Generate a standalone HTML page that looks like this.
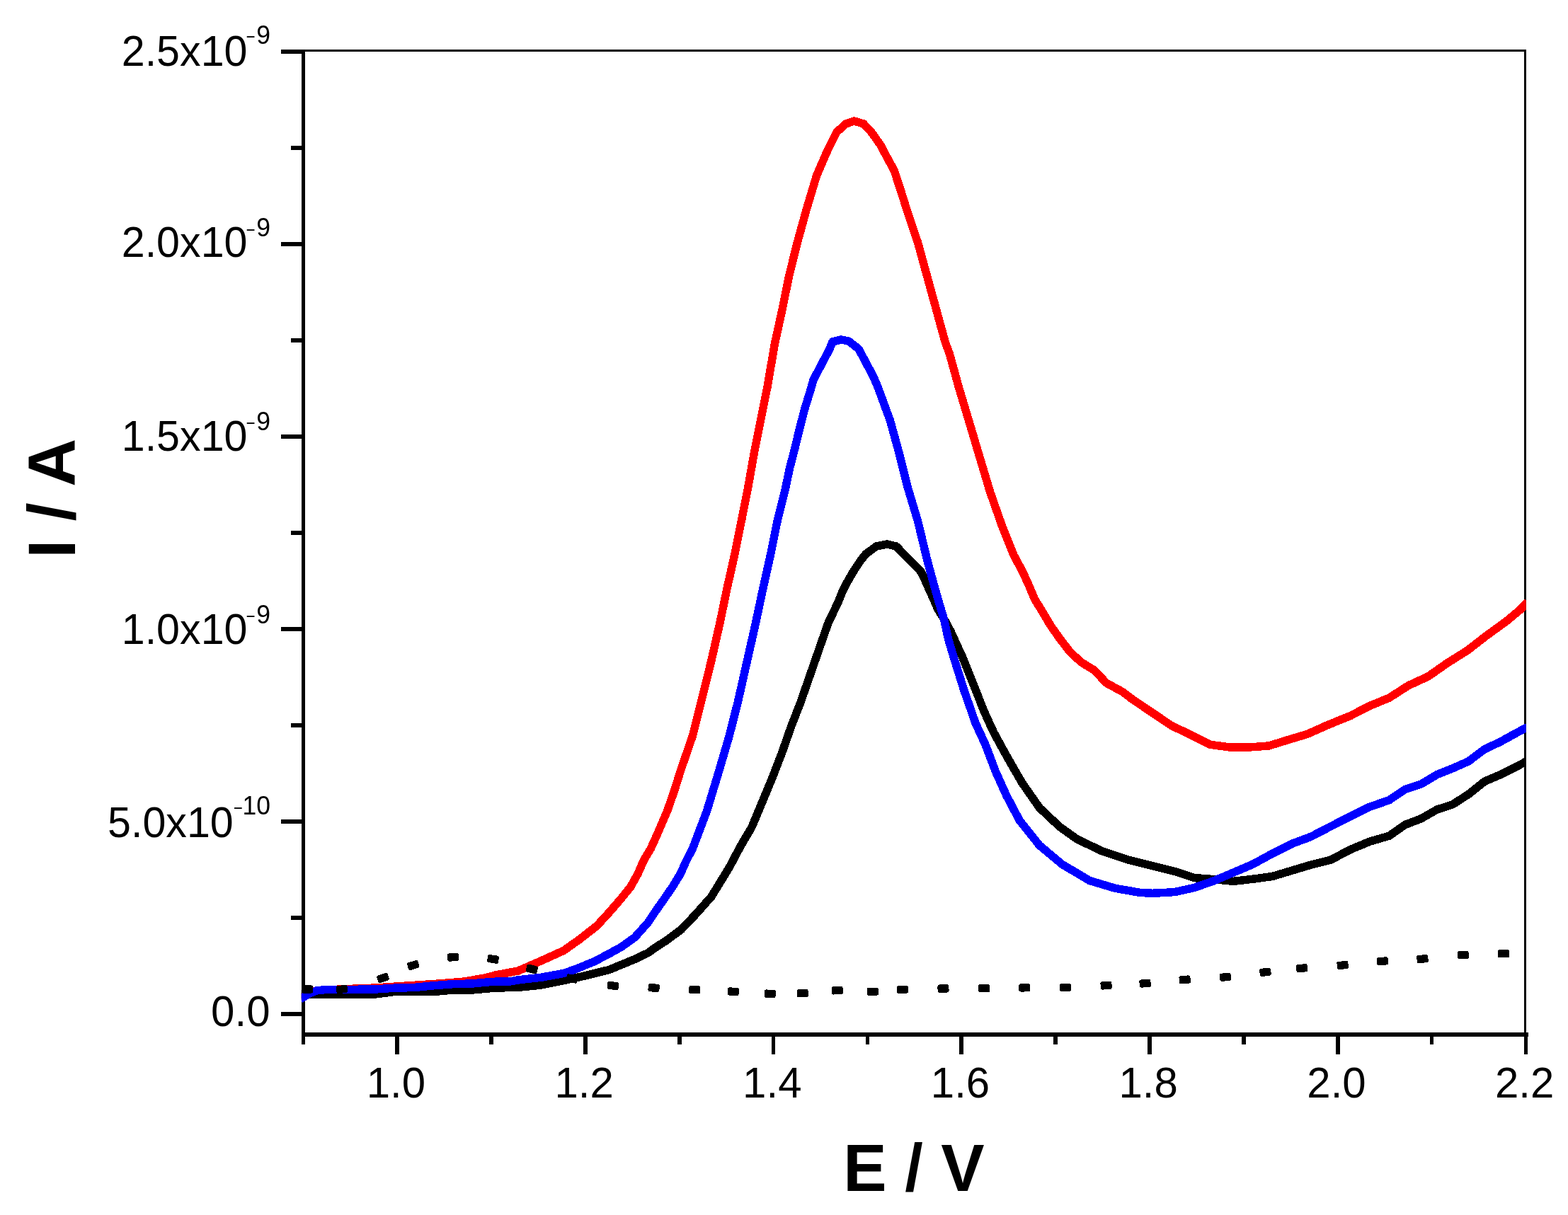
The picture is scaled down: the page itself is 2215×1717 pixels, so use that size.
<!DOCTYPE html>
<html><head><meta charset="utf-8"><title>I / A vs E / V</title>
<style>
html,body{margin:0;padding:0;background:#fff;}
body{width:2215px;height:1717px;overflow:hidden;}
svg{display:block;}
.tl{font-family:"Liberation Sans",Arial,sans-serif;font-size:60px;fill:#000;}
.sup{font-family:"Liberation Sans",Arial,sans-serif;font-size:35.5px;fill:#000;}
.ttl{font-family:"Liberation Sans",Arial,sans-serif;font-size:92px;font-weight:bold;fill:#000;}
.c{fill:none;stroke-width:11.5;stroke-linejoin:round;stroke-linecap:butt;}
</style></head>
<body>
<svg width="2215" height="1717" viewBox="0 0 2215 1717">
<rect width="2215" height="1717" fill="#fff"/>
<defs><clipPath id="pc"><rect x="425.8" y="60" width="1730" height="1410"/></clipPath></defs>
<g fill="#000" shape-rendering="crispEdges">
<!-- frame -->
<rect x="426" y="70.4" width="1730" height="2.7"/>
<rect x="2153.2" y="70.4" width="2.6" height="1392"/>
<!-- left axis -->
<rect x="425.9" y="70.4" width="5.4" height="1405.6"/>
<!-- bottom axis -->
<rect x="426" y="1459" width="1732.8" height="5.7"/>
<rect x="558.31" y="1459" width="5.7" height="31.40"/>
<rect x="691.17" y="1459" width="5.7" height="16.50"/>
<rect x="824.03" y="1459" width="5.7" height="31.40"/>
<rect x="956.89" y="1459" width="5.7" height="16.50"/>
<rect x="1089.75" y="1459" width="5.7" height="31.40"/>
<rect x="1222.61" y="1459" width="5.7" height="16.50"/>
<rect x="1355.47" y="1459" width="5.7" height="31.40"/>
<rect x="1488.33" y="1459" width="5.7" height="16.50"/>
<rect x="1621.19" y="1459" width="5.7" height="31.40"/>
<rect x="1754.05" y="1459" width="5.7" height="16.50"/>
<rect x="1886.91" y="1459" width="5.7" height="31.40"/>
<rect x="2019.77" y="1459" width="5.7" height="16.50"/>
<rect x="2152.63" y="1459" width="5.7" height="31.40"/>
<rect x="397" y="1430.25" width="31.50" height="5.6"/>
<rect x="411" y="1294.27" width="17.50" height="5.6"/>
<rect x="397" y="1158.28" width="31.50" height="5.6"/>
<rect x="411" y="1022.29" width="17.50" height="5.6"/>
<rect x="397" y="886.31" width="31.50" height="5.6"/>
<rect x="411" y="750.32" width="17.50" height="5.6"/>
<rect x="397" y="614.34" width="31.50" height="5.6"/>
<rect x="411" y="478.35" width="17.50" height="5.6"/>
<rect x="397" y="342.37" width="31.50" height="5.6"/>
<rect x="411" y="206.38" width="17.50" height="5.6"/>
<rect x="397" y="70.40" width="31.50" height="5.6"/>
</g>
<g shape-rendering="crispEdges" clip-path="url(#pc)">
<polyline class="c" stroke="#ff0000" points="424.0,1410.0 440.0,1401.0 480.0,1398.0 530.0,1396.0 575.0,1393.0 620.0,1390.0 656.0,1387.0 685.0,1382.0 700.0,1378.0 732.0,1372.0 764.0,1358.0 796.0,1343.5 818.0,1328.0 843.0,1308.5 860.0,1290.0 876.0,1271.6 891.0,1253.0 901.0,1235.0 909.0,1216.6 919.5,1198.7 928.0,1180.0 942.6,1146.0 952.5,1117.8 961.3,1089.5 978.5,1039.6 991.8,986.4 1005.0,933.2 1017.0,880.0 1027.2,830.8 1037.8,783.5 1047.3,736.3 1056.7,689.0 1065.0,641.8 1074.4,594.5 1083.9,547.3 1092.0,500.0 1094.7,484.4 1105.1,437.2 1114.6,389.9 1126.4,342.6 1139.4,295.4 1153.6,248.1 1168.9,212.7 1181.9,186.7 1195.0,175.0 1206.5,171.0 1220.0,175.0 1231.7,187.7 1244.1,205.4 1253.4,223.1 1263.1,240.9 1268.9,258.6 1274.7,276.3 1280.5,295.0 1296.5,342.6 1309.5,389.9 1322.5,437.2 1335.5,484.4 1341.4,500.0 1354.4,547.3 1368.6,594.5 1384.3,647.3 1398.4,694.5 1415.0,741.8 1432.1,784.7 1444.9,808.4 1453.4,827.3 1461.4,846.2 1472.8,865.1 1484.1,884.0 1497.4,902.9 1512.0,921.8 1527.6,936.0 1546.1,947.3 1562.6,965.0 1586.3,978.0 1600.0,988.5 1627.5,1007.0 1655.0,1025.5 1682.4,1038.6 1709.9,1052.3 1737.4,1056.0 1764.8,1056.0 1792.3,1054.0 1819.8,1045.5 1847.3,1037.2 1874.7,1024.9 1907.5,1011.6 1934.9,997.5 1962.4,986.2 1989.9,968.6 2017.4,956.0 2044.8,936.8 2072.3,919.6 2099.8,898.3 2127.3,878.4 2147.9,861.2 2158.0,850.5"/>
<polyline class="c" stroke="#000000" points="424.0,1405.0 480.0,1405.0 530.0,1405.0 557.0,1401.5 612.0,1401.5 640.0,1399.0 667.0,1399.0 700.0,1396.0 732.0,1395.4 764.0,1392.1 796.0,1385.7 828.0,1378.5 860.3,1370.5 877.8,1363.3 896.7,1355.5 915.6,1346.5 924.4,1340.0 941.3,1329.1 962.5,1313.4 983.8,1291.0 1005.0,1267.0 1030.3,1225.7 1046.0,1196.0 1061.9,1169.0 1076.7,1133.6 1091.4,1098.1 1105.0,1062.7 1117.4,1027.3 1131.2,991.8 1153.6,927.3 1170.1,880.0 1183.3,852.6 1189.2,837.9 1196.5,823.3 1204.9,808.6 1214.4,794.0 1222.9,783.0 1238.0,772.0 1253.0,769.0 1266.0,772.0 1276.7,783.0 1287.3,794.0 1301.5,808.4 1310.0,827.3 1318.5,846.2 1324.6,860.3 1336.0,879.0 1343.6,893.4 1352.1,912.3 1359.1,927.3 1378.0,974.5 1390.0,1005.0 1403.9,1035.4 1423.4,1070.9 1443.8,1106.3 1468.6,1141.8 1497.0,1168.4 1521.8,1186.1 1557.2,1202.9 1592.7,1214.8 1628.1,1223.6 1660.0,1231.6 1687.5,1240.6 1714.9,1242.6 1742.4,1245.4 1769.9,1242.2 1797.4,1238.5 1824.8,1230.3 1852.3,1222.0 1879.8,1215.2 1907.3,1200.7 1934.7,1189.3 1962.4,1181.2 1984.9,1165.5 2007.3,1157.0 2029.8,1144.1 2052.2,1136.8 2074.7,1122.2 2097.1,1104.3 2119.6,1094.7 2142.0,1083.5 2158.0,1075.0"/>
<polyline class="c" stroke="#0000ff" points="424.0,1412.0 437.0,1404.0 447.0,1400.0 461.0,1398.3 502.0,1398.3 530.0,1398.0 557.0,1396.2 585.0,1395.5 612.0,1392.8 640.0,1390.7 667.0,1390.0 695.0,1387.3 720.0,1387.0 732.0,1384.9 764.0,1381.3 796.0,1375.5 812.0,1370.0 828.0,1363.5 840.0,1358.5 858.9,1348.6 877.8,1338.2 896.7,1324.7 915.6,1303.5 924.5,1289.9 937.4,1271.6 950.3,1252.8 961.2,1234.9 969.4,1216.6 978.5,1199.0 998.5,1146.2 1007.1,1117.8 1015.7,1089.5 1030.3,1039.6 1042.4,991.8 1055.6,933.2 1067.6,880.0 1078.0,830.8 1088.6,783.5 1098.1,736.3 1109.4,691.2 1115.2,662.9 1122.6,634.5 1129.4,606.2 1136.8,577.8 1145.5,549.5 1149.0,536.9 1154.8,525.9 1160.5,514.9 1166.3,504.0 1172.0,493.0 1176.0,483.0 1188.0,480.0 1198.7,482.0 1212.8,493.0 1218.8,504.0 1224.5,514.9 1230.5,525.9 1235.8,536.9 1240.4,547.9 1257.5,594.5 1270.5,641.8 1282.3,689.0 1296.5,736.3 1309.3,789.5 1316.9,817.8 1324.9,846.2 1333.4,874.5 1339.5,902.9 1348.0,931.2 1361.5,974.5 1378.0,1021.8 1392.4,1053.2 1405.7,1088.6 1421.6,1124.0 1440.3,1159.5 1468.6,1194.9 1500.5,1221.5 1539.5,1244.6 1574.9,1255.2 1610.4,1261.4 1628.1,1262.3 1645.8,1261.4 1660.0,1260.5 1687.5,1254.3 1714.9,1244.7 1742.4,1233.0 1769.9,1221.3 1797.4,1206.2 1824.8,1192.5 1852.3,1182.2 1879.8,1167.8 1907.3,1154.0 1934.7,1140.3 1962.4,1130.7 1984.9,1115.5 2007.3,1108.2 2029.8,1094.7 2052.2,1085.8 2074.7,1075.7 2097.1,1058.8 2119.6,1048.2 2142.0,1035.8 2158.0,1027.5"/>
<g fill="#000">
<rect x="426.0" y="1392.4" width="16" height="11.2" rx="2.5" transform="rotate(0.0 434.0 1398.0)"/>
<rect x="475.0" y="1392.4" width="16" height="11.2" rx="2.5" transform="rotate(-8.5 483.0 1398.0)"/>
<rect x="533.0" y="1376.4" width="16" height="11.2" rx="2.5" transform="rotate(-18.6 541.0 1382.0)"/>
<rect x="575.8" y="1358.4" width="16" height="11.2" rx="2.5" transform="rotate(-16.5 583.8 1364.0)"/>
<rect x="632.0" y="1347.1" width="16" height="11.2" rx="2.5" transform="rotate(-4.4 640.0 1352.7)"/>
<rect x="688.5" y="1349.8" width="16" height="11.2" rx="2.5" transform="rotate(8.6 696.5 1355.4)"/>
<rect x="743.4" y="1363.9" width="16" height="11.2" rx="2.5" transform="rotate(13.9 751.4 1369.5)"/>
<rect x="800.0" y="1377.4" width="16" height="11.2" rx="2.5" transform="rotate(11.6 808.0 1383.0)"/>
<rect x="857.9" y="1387.4" width="16" height="11.2" rx="2.5" transform="rotate(6.4 865.9 1393.0)"/>
<rect x="915.6" y="1390.4" width="16" height="11.2" rx="2.5" transform="rotate(2.7 923.6 1396.0)"/>
<rect x="973.3" y="1392.8" width="16" height="11.2" rx="2.5" transform="rotate(2.7 981.3 1398.4)"/>
<rect x="1027.7" y="1395.6" width="16" height="11.2" rx="2.5" transform="rotate(3.1 1035.7 1401.2)"/>
<rect x="1079.9" y="1398.6" width="16" height="11.2" rx="2.5" transform="rotate(1.4 1087.9 1404.2)"/>
<rect x="1125.8" y="1398.0" width="16" height="11.2" rx="2.5" transform="rotate(-2.7 1133.8 1403.6)"/>
<rect x="1174.8" y="1394.2" width="16" height="11.2" rx="2.5" transform="rotate(-1.3 1182.8 1399.8)"/>
<rect x="1225.0" y="1395.7" width="16" height="11.2" rx="2.5" transform="rotate(-0.9 1233.0 1401.3)"/>
<rect x="1267.0" y="1392.8" width="16" height="11.2" rx="2.5" transform="rotate(-2.5 1275.0 1398.4)"/>
<rect x="1324.5" y="1391.4" width="16" height="11.2" rx="2.5" transform="rotate(-0.8 1332.5 1397.0)"/>
<rect x="1382.1" y="1391.2" width="16" height="11.2" rx="2.5" transform="rotate(-0.5 1390.1 1396.8)"/>
<rect x="1439.3" y="1390.3" width="16" height="11.2" rx="2.5" transform="rotate(-0.7 1447.3 1395.9)"/>
<rect x="1497.0" y="1389.8" width="16" height="11.2" rx="2.5" transform="rotate(-1.6 1505.0 1395.4)"/>
<rect x="1554.6" y="1387.1" width="16" height="11.2" rx="2.5" transform="rotate(-2.9 1562.6 1392.7)"/>
<rect x="1609.6" y="1384.1" width="16" height="11.2" rx="2.5" transform="rotate(-4.3 1617.6 1389.7)"/>
<rect x="1665.7" y="1378.8" width="16" height="11.2" rx="2.5" transform="rotate(-4.5 1673.7 1384.4)"/>
<rect x="1723.0" y="1375.2" width="16" height="11.2" rx="2.5" transform="rotate(-5.3 1731.0 1380.8)"/>
<rect x="1779.4" y="1368.2" width="16" height="11.2" rx="2.5" transform="rotate(-6.6 1787.4 1373.8)"/>
<rect x="1831.1" y="1362.6" width="16" height="11.2" rx="2.5" transform="rotate(-5.1 1839.1 1368.2)"/>
<rect x="1888.7" y="1358.4" width="16" height="11.2" rx="2.5" transform="rotate(-5.0 1896.7 1364.0)"/>
<rect x="1945.0" y="1352.7" width="16" height="11.2" rx="2.5" transform="rotate(-4.5 1953.0 1358.3)"/>
<rect x="2001.5" y="1349.5" width="16" height="11.2" rx="2.5" transform="rotate(-4.4 2009.5 1355.1)"/>
<rect x="2058.8" y="1343.9" width="16" height="11.2" rx="2.5" transform="rotate(-3.6 2066.8 1349.5)"/>
<rect x="2116.0" y="1342.2" width="16" height="11.2" rx="2.5" transform="rotate(0.0 2124.0 1347.8)"/>
</g>
</g>
<g>
<text transform="translate(349.5 92.9) scale(0.987 1.025)" text-anchor="end" class="tl">2.5x10</text>
<text transform="translate(382 61.5) scale(1 1.025)" text-anchor="end" class="sup">9</text>
<text transform="translate(346.65 58.2) scale(1.24 0.68)" class="sup">-</text>
<text transform="translate(349.5 363.4) scale(0.987 1.025)" text-anchor="end" class="tl">2.0x10</text>
<text transform="translate(382 334.1) scale(1 1.025)" text-anchor="end" class="sup">9</text>
<text transform="translate(346.65 330.8) scale(1.24 0.68)" class="sup">-</text>
<text transform="translate(349.5 636.8) scale(0.987 1.025)" text-anchor="end" class="tl">1.5x10</text>
<text transform="translate(382 607.5) scale(1 1.025)" text-anchor="end" class="sup">9</text>
<text transform="translate(346.65 604.2) scale(1.24 0.68)" class="sup">-</text>
<text transform="translate(349.5 910.0) scale(0.987 1.025)" text-anchor="end" class="tl">1.0x10</text>
<text transform="translate(382 880.7) scale(1 1.025)" text-anchor="end" class="sup">9</text>
<text transform="translate(346.65 877.4) scale(1.24 0.68)" class="sup">-</text>
<text transform="translate(329.8 1182.7) scale(0.987 1.025)" text-anchor="end" class="tl">5.0x10</text>
<text transform="translate(382 1151.0) scale(1 1.025)" text-anchor="end" class="sup">10</text>
<text transform="translate(329.05 1147.7) scale(1.24 0.68)" class="sup">-</text>
<text transform="translate(381.5 1450.1) scale(1 1.025)" text-anchor="end" class="tl">0.0</text>
<text transform="translate(559.4 1550.7) scale(1 1.025)" text-anchor="middle" class="tl">1.0</text>
<text transform="translate(825.1 1550.7) scale(1 1.025)" text-anchor="middle" class="tl">1.2</text>
<text transform="translate(1090.8 1550.7) scale(1 1.025)" text-anchor="middle" class="tl">1.4</text>
<text transform="translate(1356.5 1550.7) scale(1 1.025)" text-anchor="middle" class="tl">1.6</text>
<text transform="translate(1622.2 1550.7) scale(1 1.025)" text-anchor="middle" class="tl">1.8</text>
<text transform="translate(1888.0 1550.7) scale(1 1.025)" text-anchor="middle" class="tl">2.0</text>
<text transform="translate(2153.7 1550.7) scale(1 1.025)" text-anchor="middle" class="tl">2.2</text>
<text transform="translate(1291 1682.5) scale(1 1.031)" text-anchor="middle" class="ttl">E / V</text>
<text transform="translate(105.5 704.4) rotate(-90) scale(1.022 1.033)" text-anchor="middle" class="ttl">I / A</text>
</g>
</svg>
</body></html>
